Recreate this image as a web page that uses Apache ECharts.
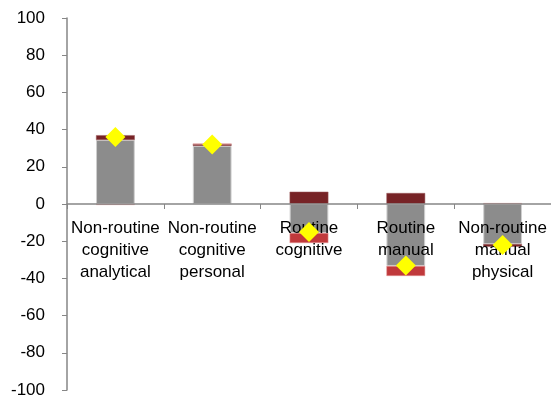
<!DOCTYPE html>
<html>
<head>
<meta charset="utf-8">
<script src="https://cdn.jsdelivr.net/npm/echarts@6/dist/echarts.min.js"></script>
<style>
  html, body { margin: 0; padding: 0; background: #fff; }
  #chart { width: 551px; height: 401px; }
</style>
</head>
<body>
<div id="chart"></div>
<script>
// Task categories
const categories = [
  'Non-routine\ncognitive\nanalytical',
  'Non-routine\ncognitive\npersonal',
  'Routine\ncognitive',
  'Routine\nmanual',
  'Non-routine\nmanual\nphysical'
];

// Stacked components
const grayPart = [34.4, 31.2, -15.6, -33.3, -21.5];
const darkRedPart = [2.6, 1.1, 6.6, 5.9, -1.5];
const redPart = [-0.5, 0, -5.4, -5.4, 0.5];
// Net change markers
const netValues = [36, 32, -15, -33, -22];

const yTicks = { min: -100, max: 100, interval: 20 };

const axisColor = '#868686';
const font = 'Liberation Sans, Arial, sans-serif';

const gridTop = 18;
const gridBottom = 11;
const chartHeight = 401;

const chart = echarts.init(document.getElementById('chart'));

const barBase = {
  type: 'bar',
  stack: 'total',
  barWidth: '40%',
  z: 2
};

// labels sit on the zero line, halfway up the plot
const labelOffset = -(chartHeight - gridTop - gridBottom) / 2;

chart.setOption({
  animation: false,
  grid: { left: 67, right: 0, top: gridTop, bottom: gridBottom, outerBoundsMode: 'none', containLabel: false },
  xAxis: [
    {
      type: 'category',
      data: categories,
      z: 3,
      axisLine: { onZero: true, lineStyle: { color: axisColor, width: 1.5 } },
      axisTick: { show: true, length: 5, lineStyle: { color: axisColor } },
      axisLabel: { show: false }
    },
    {
      type: 'category',
      data: categories,
      position: 'bottom',
      offset: labelOffset,
      z: 3,
      axisLine: { show: false, onZero: false },
      axisTick: { show: false },
      axisLabel: {
        color: '#000',
        fontFamily: font,
        fontSize: 17,
        lineHeight: 22,
        margin: 13,
        interval: 0
      }
    }
  ],
  yAxis: {
    type: 'value',
    min: yTicks.min,
    max: yTicks.max,
    interval: yTicks.interval,
    splitLine: { show: false },
    axisLine: { show: true, lineStyle: { color: axisColor, width: 1.5 } },
    axisTick: { show: true, length: 5, lineStyle: { color: axisColor } },
    axisLabel: { color: '#000', fontFamily: font, fontSize: 17, margin: 22 }
  },
  series: [
    {
      ...barBase,
      name: 'gray',
      data: grayPart,
      itemStyle: { color: '#8c8c8c', borderColor: '#cfcfcf', borderWidth: 1 }
    },
    {
      ...barBase,
      name: 'darkred',
      data: darkRedPart,
      itemStyle: { color: '#772326', borderColor: '#9a5a5c', borderWidth: 0.5 }
    },
    {
      ...barBase,
      name: 'red',
      data: redPart,
      itemStyle: { color: '#c0393b', borderColor: '#e59a9a', borderWidth: 0.5 }
    },
    {
      type: 'scatter',
      name: 'net',
      data: netValues,
      symbol: 'diamond',
      symbolSize: [20, 20],
      z: 4,
      itemStyle: { color: '#ffff00', opacity: 1 }
    }
  ]
});
</script>
</body>
</html>
